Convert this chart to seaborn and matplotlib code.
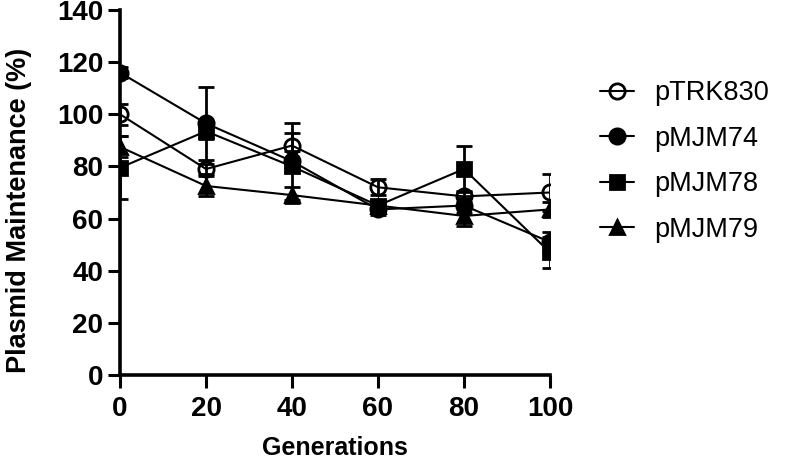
import numpy as np
import pandas as pd
import matplotlib.pyplot as plt
import seaborn as sns

# data (mean +/- SD)
generations = [0, 20, 40, 60, 80, 100]
plasmids = ["pTRK830", "pMJM74", "pMJM78", "pMJM79"]

ptrk830_mean = [100, 79, 88, 72, 68.5, 70]
ptrk830_sd = [4, 2, 8.5, 3, 2, 7]
pmjm74_mean = [116, 96.5, 82, 63.5, 65, 51]
pmjm74_sd = [2, 14, 4, 2, 3, 4]
pmjm78_mean = [79.5, 93.5, 80, 65, 79, 47]
pmjm78_sd = [12, 3, 13, 2, 9, 6]
pmjm79_mean = [87.5, 72.5, 69, 65, 61, 63.5]
pmjm79_sd = [4, 4, 3, 2, 4, 3]

means = [ptrk830_mean, pmjm74_mean, pmjm78_mean, pmjm79_mean]
sds = [ptrk830_sd, pmjm74_sd, pmjm78_sd, pmjm79_sd]

df = pd.DataFrame({
    "plasmid": np.repeat(plasmids, len(generations)),
    "generation": generations * len(plasmids),
    "maintenance": np.concatenate(means),
    "sd": np.concatenate(sds),
})

styles = {
    "pTRK830": dict(marker="o", markerfacecolor="none", markersize=11),
    "pMJM74": dict(marker="o", markerfacecolor="black", markersize=11),
    "pMJM78": dict(marker="s", markerfacecolor="black", markersize=10),
    "pMJM79": dict(marker="^", markerfacecolor="black", markersize=10.5),
}

sns.set_style("ticks", {"axes.edgecolor": "black", "text.color": "black",
                        "xtick.color": "black", "ytick.color": "black",
                        "axes.labelcolor": "black"})
plt.rcParams["font.family"] = ["Liberation Sans", "DejaVu Sans"]

fig = plt.figure(figsize=(7.86, 4.61), dpi=100)
ax = fig.add_axes([0.1527, 0.1866, 0.547, 0.7917])

for p in plasmids:
    sub = df[df["plasmid"] == p]
    ax.errorbar(sub["generation"], sub["maintenance"], yerr=sub["sd"], fmt="none",
                ecolor="black", elinewidth=2, capsize=6, capthick=2, zorder=2)
    sns.lineplot(data=sub, x="generation", y="maintenance", color="black", linewidth=1.5,
                 markeredgecolor="black", markeredgewidth=2, label=p, ax=ax,
                 errorbar=None, zorder=3, **styles[p])

ax.set_xlim(0, 100)
ax.set_ylim(0, 140)
ax.set_xticks(generations)
ax.set_yticks(range(0, 141, 20))
ax.tick_params(length=9, width=2.2, labelsize=20, colors="black")
ax.tick_params(axis="x", pad=6)
ax.tick_params(axis="y", pad=3)
for lbl in ax.get_xticklabels() + ax.get_yticklabels():
    lbl.set_fontweight("bold")
for s in ["left", "bottom"]:
    ax.spines[s].set_linewidth(2.6)
    ax.spines[s].set_color("black")
ax.spines["top"].set_visible(False)
ax.spines["right"].set_visible(False)
for s in ax.spines.values():
    s.set_clip_on(False)

ax.set_xlabel("Generations", fontsize=18, fontweight="bold", labelpad=10)
ax.set_ylabel("Plasmid Maintenance (%)", fontsize=19.5, fontweight="bold")
ax.yaxis.set_label_coords(-0.205, 0.45)

ax.legend(loc="center left", bbox_to_anchor=(1.06, 0.585), frameon=False,
          fontsize=19.5, handlelength=1.25, handletextpad=0.75, labelspacing=0.72)

fig.savefig("out.png", dpi=100)
